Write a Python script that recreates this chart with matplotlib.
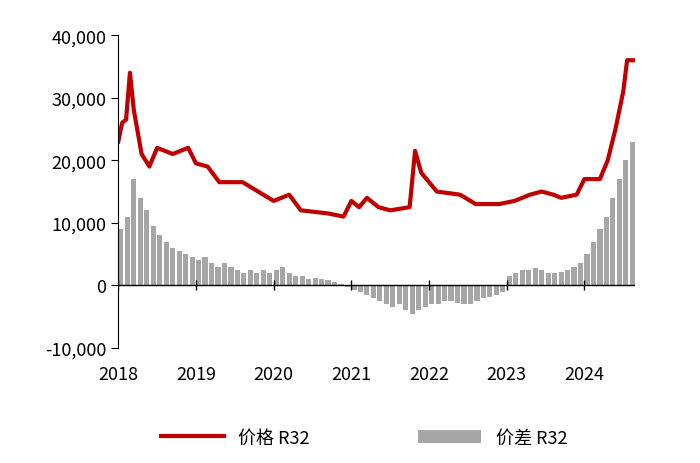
import matplotlib.pyplot as plt
import numpy as np

plt.rcParams['font.family'] = ['Noto Sans CJK SC', 'DejaVu Sans']

# 价格 R32 (年份小数, 元/吨)
price_x = [2018.0, 2018.05, 2018.1, 2018.15, 2018.2, 2018.3, 2018.4, 2018.5, 2018.7, 2018.9,
           2019.0, 2019.15, 2019.3, 2019.6, 2019.8, 2020.0, 2020.2, 2020.35, 2020.7, 2020.9,
           2021.0, 2021.1, 2021.2, 2021.35, 2021.5, 2021.75, 2021.82, 2021.9, 2022.1, 2022.4,
           2022.6, 2022.9, 2023.1, 2023.3, 2023.45, 2023.6, 2023.7, 2023.9, 2024.0, 2024.2,
           2024.3, 2024.4, 2024.5, 2024.55, 2024.63]
price_y = [23000, 26000, 26500, 34000, 28000, 21000, 19000, 22000, 21000, 22000,
           19500, 19000, 16500, 16500, 15000, 13500, 14500, 12000, 11500, 11000,
           13500, 12500, 14000, 12500, 12000, 12500, 21500, 18000, 15000, 14500,
           13000, 13000, 13500, 14500, 15000, 14500, 14000, 14500, 17000, 17000,
           20000, 25000, 31000, 36000, 36000]

# 价差 R32, 月度 2018-01 起
spread = [9000, 11000, 17000, 14000, 12000, 9500, 8000, 7000, 6000, 5500, 5000, 4500,
          4000, 4500, 3500, 3000, 3500, 3000, 2500, 2000, 2500, 2000, 2500, 2000,
          2500, 3000, 2000, 1500, 1500, 1000, 1200, 1000, 800, 500, 200, -300,
          -800, -1000, -1500, -2000, -2500, -3000, -3500, -3000, -4000, -4500, -4000, -3500,
          -3000, -3000, -2500, -2500, -2800, -3000, -3000, -2500, -2000, -1800, -1500, -1000,
          1500, 2000, 2500, 2500, 2800, 2500, 2000, 2000, 2200, 2500, 3000, 3500,
          5000, 7000, 9000, 11000, 14000, 17000, 20000, 23000]
spread_x = 2018.0 + np.arange(len(spread)) / 12

fig, ax = plt.subplots(figsize=(7, 4.64), dpi=100)
fig.subplots_adjust(left=0.169, right=0.907, top=0.922, bottom=0.248)

ax.bar(spread_x, spread, width=0.8 / 12, color='#a6a6a6', align='edge', label='价差 R32')
ax.plot(price_x, price_y, color='#c00000', lw=3, label='价格 R32')
ax.axhline(0, color='black', lw=1)
years = list(range(2018, 2025))
ax.plot(years, [0] * len(years), ls='none', marker='|', color='black', ms=7)

ax.set_xlim(2018, 2024.65)
ax.set_ylim(-10000, 40000)
ax.set_xticks(years)
ax.set_yticks(range(-10000, 40001, 10000))
ax.yaxis.set_major_formatter(plt.FuncFormatter(lambda v, p: f'{int(v):,}'))
ax.tick_params(axis='x', length=0, labelsize=13, pad=12)
ax.tick_params(axis='y', direction='out', length=5, labelsize=13)
for s in ['top', 'right', 'bottom']:
    ax.spines[s].set_visible(False)

fig.legend(loc='lower center', ncol=2, frameon=False, fontsize=13,
           bbox_to_anchor=(0.52, 0.0), columnspacing=6, handlelength=3.5)
plt.savefig('out.png')
